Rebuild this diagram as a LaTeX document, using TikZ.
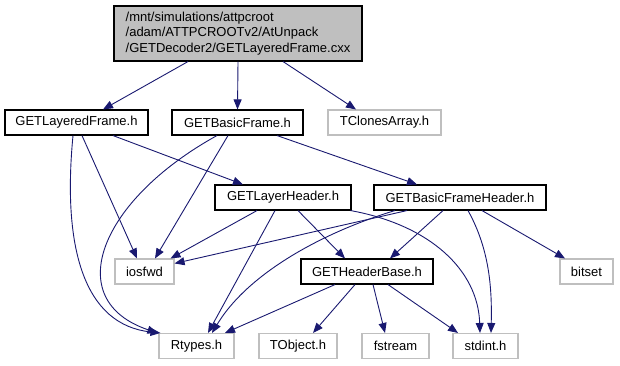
\documentclass[tikz,border=0pt]{standalone}
\usepackage{fontspec}
\setmainfont{Liberation Sans}
\usepackage{xcolor}
\usetikzlibrary{arrows.meta}
\definecolor{edgeBlue}{RGB}{25,25,112}
\definecolor{sysGray}{RGB}{191,191,191}

\begin{document}
\begin{tikzpicture}[x=1pt,y=-1pt,
  hdr/.style={draw=black,line width=1.1pt,inner sep=0pt,minimum height=25pt,font=\fontsize{13}{15.5}\selectfont},
  sys/.style={hdr,draw=sysGray},
  dep/.style={draw=edgeBlue,line width=0.9pt,-{Triangle[length=10pt,width=8pt,fill=edgeBlue]}}]
  \useasboundingbox (0,0) rectangle (620,365);
  % file being documented
  \node[hdr,fill=sysGray,minimum width=248pt,minimum height=55pt,align=left] (cxx) at (238,33.5)
    {/mnt/simulations/attpcroot\\/adam/ATTPCROOTv2/AtUnpack\\/GETDecoder2/GETLayeredFrame.cxx};
  % first level
  \node[hdr,minimum width=143pt] (lfh) at (76.5,122.5) {GETLayeredFrame.h};
  \node[hdr,minimum width=131pt] (bfh) at (237.5,122.5) {GETBasicFrame.h};
  \node[sys,minimum width=113pt] (tca) at (384.5,122.5) {TClonesArray.h};
  % headers
  \node[hdr,minimum width=136pt] (lhh) at (283,197.5) {GETLayerHeader.h};
  \node[hdr,minimum width=172pt] (bhh) at (460,197.5) {GETBasicFrameHeader.h};
  \node[sys,minimum width=59pt] (iosfwd) at (144.5,271.5) {iosfwd};
  \node[hdr,minimum width=132pt] (hbh) at (367,271.5) {GETHeaderBase.h};
  \node[sys,minimum width=53pt] (bitset) at (586.5,271.5) {bitset};
  % bottom row
  \node[sys,minimum width=75pt] (rtypes) at (196.5,346) {Rtypes.h};
  \node[sys,minimum width=78pt] (tobject) at (298,346) {TObject.h};
  \node[sys,minimum width=67pt] (fstream) at (395.5,346) {fstream};
  \node[sys,minimum width=65pt] (stdint) at (485.5,346) {stdint.h};

  \draw[dep] ([xshift=-50pt]cxx.south) -- ([xshift=26.5pt]lfh.north);
  \draw[dep] (cxx.south) -- (bfh.north);
  \draw[dep] ([xshift=45pt]cxx.south) -- ([xshift=-28.5pt]tca.north);

  \draw[dep] ([xshift=-3.5pt]lfh.south) .. controls (62,250) and (85,325) .. ([xshift=2pt]rtypes.north west);
  \draw[dep] ([xshift=5.5pt]lfh.south) -- ([xshift=-7.5pt]iosfwd.north);
  \draw[dep] ([xshift=36.5pt]lfh.south) -- ([xshift=-40pt]lhh.north);

  \draw[dep] ([xshift=-20.5pt]bfh.south) .. controls (100,200) and (60,300) .. ([xshift=-1pt]rtypes.north west);
  \draw[dep] ([xshift=-9.5pt]bfh.south) -- ([xshift=10.5pt]iosfwd.north);
  \draw[dep] ([xshift=39.5pt]bfh.south) -- ([xshift=-43pt]bhh.north);

  \draw[dep] ([xshift=-26pt]lhh.south) -- ([xshift=-4pt]iosfwd.north east);
  \draw[dep] ([xshift=-8pt]lhh.south) -- ([xshift=11.5pt]rtypes.north);
  \draw[dep] ([xshift=15pt]lhh.south) -- ([xshift=-22pt]hbh.north);
  \draw[dep] ([xshift=-1pt]lhh.south east) .. controls (430,225) and (478,270) .. ([xshift=-5.5pt]stdint.north);

  \draw[dep] ([xshift=-53pt]bhh.south) -- ([yshift=-5pt]iosfwd.north east);
  \draw[dep] ([xshift=-65pt]bhh.south) .. controls (330,230) and (250,270) .. ([xshift=15.5pt]rtypes.north);
  \draw[dep] ([xshift=-17pt]bhh.south) -- ([xshift=23pt]hbh.north);
  \draw[dep] ([xshift=8pt]bhh.south) .. controls (490,250) and (492,290) .. ([xshift=5.5pt]stdint.north);
  \draw[dep] ([xshift=22pt]bhh.south) -- ([xshift=-21.5pt]bitset.north);

  \draw[dep] ([xshift=-32pt]hbh.south) -- ([xshift=28.5pt]rtypes.north);
  \draw[dep] ([xshift=-12pt]hbh.south) -- ([xshift=15pt]tobject.north);
  \draw[dep] ([xshift=6pt]hbh.south) -- ([xshift=-10.5pt]fstream.north);
  \draw[dep] ([xshift=21pt]hbh.south) -- ([xshift=-27.5pt]stdint.north);
\end{tikzpicture}
\end{document}
